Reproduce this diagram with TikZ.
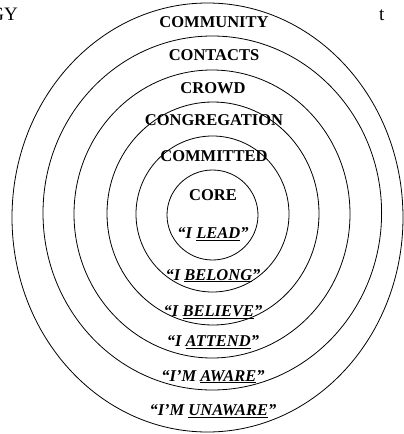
\documentclass[tikz,border=0pt]{standalone}
\usepackage{fontspec}
\setmainfont{Liberation Serif}
\begin{document}
\begin{tikzpicture}[x=1pt,y=-1pt,
    ring/.style={line width=0.8pt},
    lbl/.style={anchor=base,inner sep=0pt,font=\fontsize{16.5}{18}\selectfont\bfseries},
    say/.style={lbl,font=\fontsize{16.5}{18}\selectfont\bfseries\itshape}]
  \useasboundingbox (0,0) rectangle (404,434);
  % rings, from the outside in
  \foreach \cx/\cy/\rx/\ry in {207.5/217.5/195.5/214.5, 212.3/213/169.3/177,
      212/214/138/144, 213/213.5/106/111.5, 212.5/214/76.5/78, 212.5/215/45.5/45} {
    \draw [ring] (\cx,\cy) ellipse [x radius=\rx pt, y radius=\ry pt];
  }
  % cut-off words of the page around it
  \node (gy) at (18,20) [anchor=base east,inner sep=0pt,font=\fontsize{19}{20}\selectfont] {GY};
  \node (tt) at (379,20) [anchor=base west,inner sep=0pt,font=\fontsize{19}{20}\selectfont] {t};
  % names of the rings
  \node (community) at (214,27) [lbl] {COMMUNITY};
  \node (contacts) at (214,60.5) [lbl] {CONTACTS};
  \node (crowd) at (213,93.5) [lbl] {CROWD};
  \node (congregation) at (214,125.5) [lbl] {CONGREGATION};
  \node (committed) at (214,161.5) [lbl] {COMMITTED};
  \node (core) at (213,200.5) [lbl] {CORE};
  % what each ring says
  \node (lead) at (213,238.5) [say] {“I \underline{LEAD}”};
  \node (belong) at (213,280) [say] {“I \underline{BELONG}”};
  \node (believe) at (213,316.5) [say] {“I \underline{BELIEVE}”};
  \node (attend) at (213,346.5) [say] {“I \underline{ATTEND}”};
  \node (aware) at (213,381) [say] {“I’M \underline{AWARE}”};
  \node (unaware) at (213,415.5) [say] {“I’M \underline{UNAWARE}”};
\end{tikzpicture}
\end{document}
